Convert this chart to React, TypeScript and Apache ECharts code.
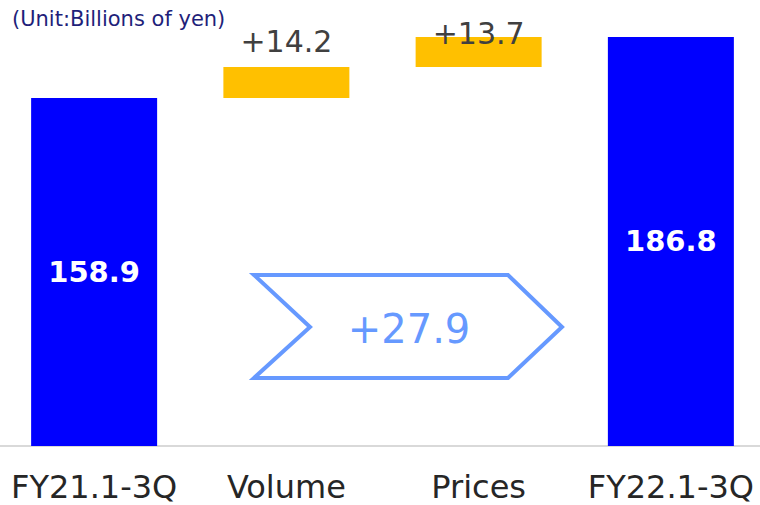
import React, { useEffect, useRef } from "react";
import * as echarts from "echarts";

const categories = ["FY21.1-3Q", "Volume", "Prices", "FY22.1-3Q"];
const startValue = 158.9;
const deltas = [14.2, 13.7];
const endValue = 186.8;
const unitLabel = "(Unit:Billions of yen)";

export default function App() {
  const ref = useRef<HTMLDivElement>(null);
  useEffect(() => {
    if (!ref.current) return;
    const chart = echarts.init(ref.current, null, { renderer: "svg" });
    const bases: number[] = [0];
    let acc = startValue;
    deltas.forEach((d) => {
      bases.push(Math.round(acc * 10) / 10);
      acc += d;
    });
    bases.push(0);
    const values = [startValue, ...deltas, endValue];
    const totalDiff = Math.round((endValue - startValue) * 10) / 10;
    const font = "DejaVu Sans";
    const barData = values.map((v, i) => {
      const isTotal = i === 0 || i === values.length - 1;
      if (isTotal) {
        return {
          value: v,
          itemStyle: { color: "#0000ff" },
          label: {
            show: true,
            position: "inside",
            formatter: v.toFixed(1),
            color: "#ffffff",
            fontWeight: "bold",
            fontSize: 29,
            fontFamily: font,
          },
        };
      }
      return {
        value: v,
        itemStyle: { color: "#ffc000" },
        label: {
          show: true,
          position: "top",
          distance: 10,
          offset: i === 2 ? [0, 22] : [0, 0],
          formatter: "+" + v.toFixed(1),
          color: "#404040",
          fontSize: 30,
          fontFamily: font,
        },
      };
    });
    chart.setOption({
      animation: false,
      backgroundColor: "#ffffff",
      grid: { left: 0, right: 0, top: 8, bottom: 59, containLabel: false },
      xAxis: {
        type: "category",
        data: categories,
        axisLine: { show: true, lineStyle: { color: "#d9d9d9", width: 2 } },
        axisTick: { show: false },
        axisLabel: {
          color: "#262626",
          fontSize: 32,
          fontFamily: font,
          margin: 25,
          interval: 0,
        },
      },
      yAxis: {
        type: "value",
        min: 0,
        max: 200,
        show: false,
        splitLine: { show: false },
      },
      series: [
        {
          type: "bar",
          stack: "w",
          data: bases,
          itemStyle: { color: "transparent" },
          barWidth: 126,
          silent: true,
        },
        {
          type: "bar",
          stack: "w",
          data: barData,
          barWidth: 126,
        },
      ],
      graphic: [
        {
          type: "text",
          left: 14,
          top: 8,
          style: {
            text: unitLabel,
            fill: "#1f1f7a",
            fontSize: 21,
            fontFamily: font,
          },
        },
        {
          type: "polygon",
          shape: {
            points: [
              [256, 275],
              [510, 275],
              [564, 327],
              [510, 378],
              [256, 378],
              [312, 327],
            ],
          },
          style: { fill: "#ffffff", stroke: "#6699ff", lineWidth: 4 },
        },
        {
          type: "text",
          x: 411,
          y: 329,
          style: {
            text: "+" + totalDiff.toFixed(1),
            fill: "#6699ff",
            fontSize: 40,
            fontFamily: font,
            align: "center",
            verticalAlign: "middle",
          },
        },
      ],
    });
    return () => chart.dispose();
  }, []);
  return (
    <div
      ref={ref}
      style={{ position: "fixed", left: -2, top: 0, width: 769, height: 505 }}
    />
  );
}
